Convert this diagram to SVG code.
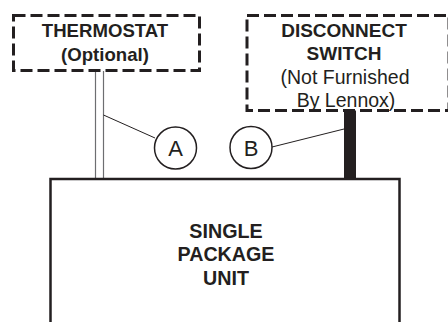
<svg xmlns="http://www.w3.org/2000/svg" width="448" height="322" viewBox="0 0 448 322">
<style>
.dash{fill:#fff;stroke:#231f20;stroke-width:3;stroke-dasharray:12 5}
.unit{fill:#fff;stroke:#231f20;stroke-width:2.5}
.b{font-family:"Liberation Sans",Arial,sans-serif;font-weight:bold;fill:#231f20;text-anchor:middle}
.r{font-family:"Liberation Sans",Arial,sans-serif;fill:#231f20;text-anchor:middle}
.wire{stroke:#6d6e71;stroke-width:1.2;fill:none}
.lead{stroke:#231f20;stroke-width:1;fill:none}
.circ{fill:#fff;stroke:#231f20;stroke-width:1.5}
</style>
<rect width="448" height="322" fill="#fff"/>
<g id="connectors">
<line class="wire" x1="95.5" y1="71" x2="95.5" y2="179"/>
<line class="wire" x1="103.5" y1="71" x2="103.5" y2="179"/>
<rect x="344" y="110" width="12" height="69" fill="#231f20"/>
<line class="lead" x1="103.5" y1="115" x2="155" y2="138"/>
<line class="lead" x1="344" y1="129" x2="272" y2="147"/>
</g>
<g id="thermostat">
<rect class="dash" x="13.5" y="15.5" width="186" height="55"/>
<text class="b" x="105" y="37" font-size="18.6">THERMOSTAT</text>
<text class="b" x="105" y="61" font-size="18.6">(Optional)</text>
</g>
<g id="disconnect">
<rect class="dash" x="247" y="15.5" width="202" height="95"/>
<text class="b" x="344" y="37" font-size="19">DISCONNECT</text>
<text class="b" x="344" y="60" font-size="19">SWITCH</text>
<text class="r" x="345" y="84" font-size="19.5">(Not Furnished</text>
<text class="r" x="346" y="107" font-size="19.5">By Lennox)</text>
</g>
<g id="unit">
<rect class="unit" x="50.5" y="179" width="349" height="160"/>
<text class="b" x="226" y="238" font-size="19.7">SINGLE</text>
<text class="b" x="226" y="261" font-size="19.7">PACKAGE</text>
<text class="b" x="226" y="285" font-size="19.7">UNIT</text>
</g>
<g id="labelA">
<circle class="circ" cx="175.5" cy="148" r="21"/>
<text class="r" x="175.5" y="156" font-size="22">A</text>
</g>
<g id="labelB">
<circle class="circ" cx="251" cy="147.5" r="21"/>
<text class="r" x="251" y="155.5" font-size="22">B</text>
</g>
</svg>
